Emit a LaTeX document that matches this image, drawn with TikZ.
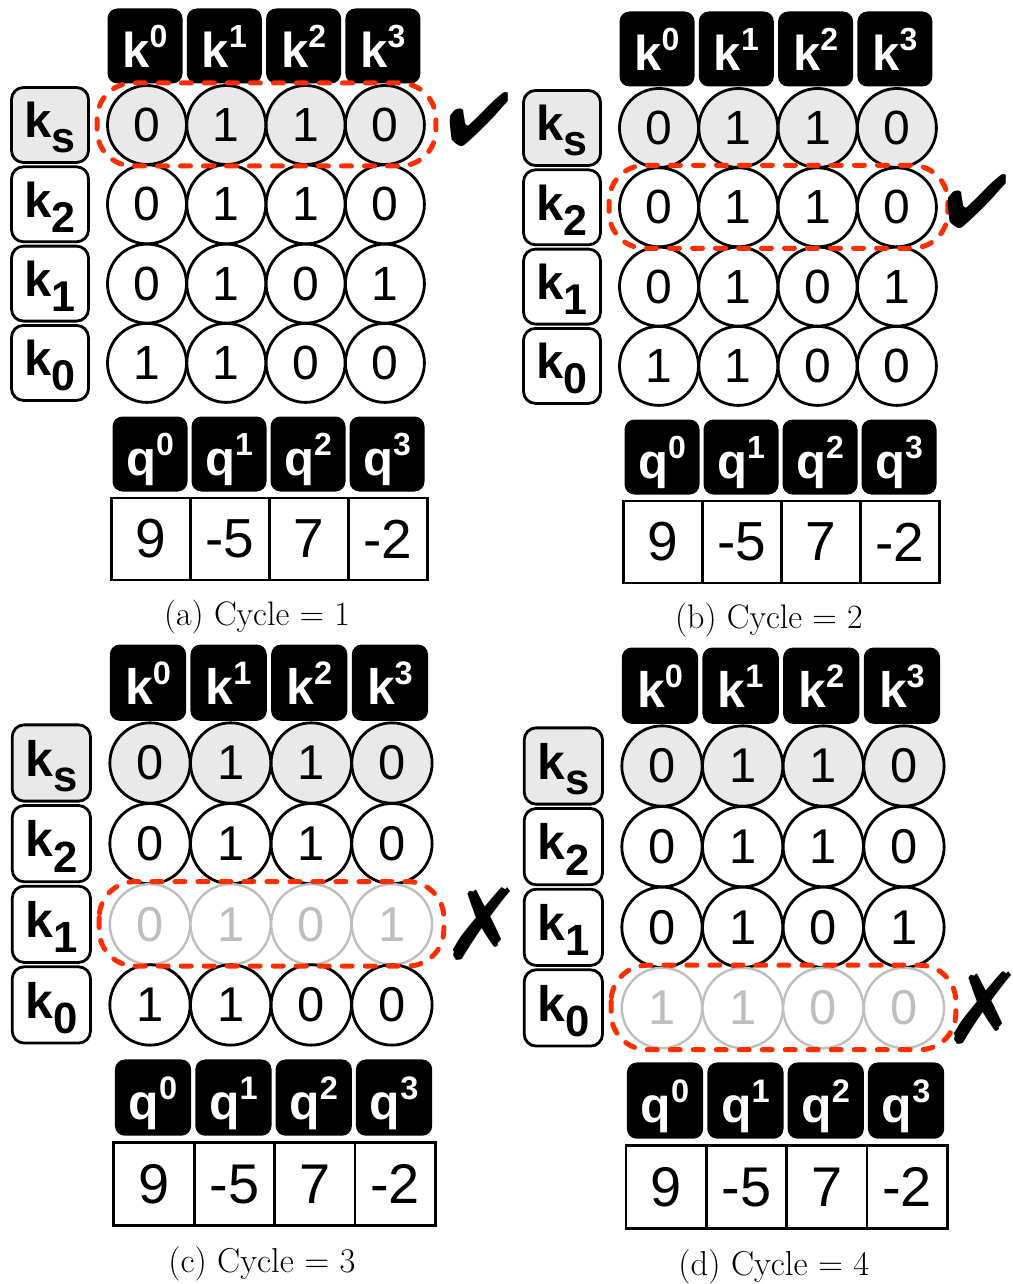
\documentclass[tikz,border=0pt]{standalone}
\usepackage{fontspec}
\usepackage{pifont}
\newfontfamily\helv{Liberation Sans}
\definecolor{hlred}{RGB}{255,45,0}
\definecolor{fadegray}{RGB}{190,190,190}
\definecolor{seedgray}{RGB}{233,233,233}
\newcommand{\hdrtxt}[2]{#1\raisebox{20pt}{\fontsize{32}{32}\selectfont#2}}
\newcommand{\lbltxt}[1]{k\raisebox{-15pt}{\fontsize{43}{43}\selectfont#1}}

\begin{document}
\begin{tikzpicture}[x=1pt, y=-1pt,
    bitcell/.style={circle, draw, line width=2.8pt, minimum size=79pt, inner sep=0pt,
      fill=white, font=\helv\fontsize{48}{48}\selectfont},
    seedcell/.style={bitcell, fill=seedgray},
    fadecell/.style={bitcell, draw=fadegray, text=fadegray, line width=2.4pt},
    hdrbox/.style={rectangle, fill=black, text=white, rounded corners=10pt,
      minimum width=75pt, minimum height=75pt, inner sep=0pt, text height=43pt,
      text depth=0pt, font=\helv\bfseries\fontsize{49}{49}\selectfont},
    keybox/.style={rectangle, draw, line width=2.8pt, rounded corners=12pt,
      minimum width=77pt, minimum height=75pt, inner sep=0pt, text height=36pt,
      text depth=10pt, font=\helv\bfseries\fontsize{49}{49}\selectfont},
    valbox/.style={rectangle, draw, line width=2.8pt, minimum width=79pt,
      minimum height=82pt, inner sep=0pt, font=\helv\fontsize{55}{55}\selectfont},
    hlbox/.style={draw=hlred, line width=5pt, dash pattern=on 10pt off 13pt,
      line cap=round, rounded corners=36pt},
    caption/.style={font=\fontsize{34}{40}\selectfont}
  ]
  \useasboundingbox (0,0) rectangle (1012,1284);

  \def\pitch{79.3}

  % one panel per cycle: name/origin/scale/checked row/faded/mark/mark x/cycle
  \foreach \p/\ox/\oy/\sc/\hl/\fade/\dg/\mx/\cyc in {a/147/125/1/0/0/52/332/1,
      b/659/128/1/1/0/52/318/2, c/150/763/1.017/2/1/55/326/3,
      d/662/766/1.017/3/1/55/316/4} {
    \begin{scope}[shift={(\ox,\oy)}, scale=\sc, transform shape]
      % key headers
      \foreach \j in {0,...,3}
        \node[hdrbox] (\p-kh-\j) at (-2+\j*\pitch, -79) {\hdrtxt{k}{\j}};

      % key rows
      \foreach \i/\sub/\bits in {0/s/{0,1,1,0}, 1/2/{0,1,1,0},
          2/1/{0,1,0,1}, 3/0/{1,1,0,0}} {
        \ifnum\i=0 \def\cellkind{seedcell}\def\keyfill{seedgray}%
        \else\def\cellkind{bitcell}\def\keyfill{white}\fi
        \ifnum\fade=1 \ifnum\i=\hl \def\cellkind{fadecell}\fi\fi
        \node[keybox, fill=\keyfill] (\p-key-\i) at (-97, \i*\pitch) {\lbltxt{\sub}};
        \foreach \b [count=\j from 0] in \bits
          \node[\cellkind] (\p-\i-\j) at (\j*\pitch, \i*\pitch) {\b};
      }

      % row under test
      \draw[hlbox] (-50, \hl*\pitch-42) rectangle (3*\pitch+51, \hl*\pitch+41);
      \ifnum\dg=52 \def\my{-6}\def\msize{75}\else\def\my{0}\def\msize{98}\fi
      \node[font=\fontsize{\msize}{\msize}\selectfont] (\p-mark)
        at (\mx, \hl*\pitch+\my) {\ding{\dg}};

      % query
      \foreach \v [count=\j from 0] in {9,-5,7,-2} {
        \node[hdrbox] (\p-qh-\j) at (3+\j*79, 329) {\hdrtxt{q}{\j}};
        \node[valbox] (\p-qv-\j) at (4+\j*79, 414) {\v};
      }

      \node[caption] (\p-cap) at (110, 492) {(\p) Cycle = \cyc};
    \end{scope}
  }
\end{tikzpicture}
\end{document}
